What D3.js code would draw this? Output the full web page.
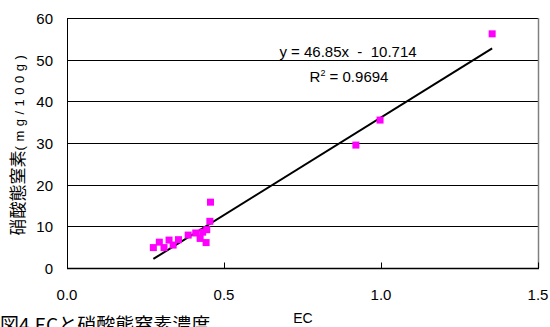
<!DOCTYPE html>
<html>
<head>
<meta charset="utf-8">
<script src="https://cdn.jsdelivr.net/npm/d3@7"></script>
<style>
  body { margin: 0; background: #fff; }
  svg { display: block; }
  text { font-family: "Liberation Sans", Arial, sans-serif; fill: #000; }
</style>
</head>
<body>
<div id="chart"></div>
<script>
// EC vs nitrate nitrogen
const ecValues = [0.275, 0.294, 0.309, 0.325, 0.338, 0.355, 0.386, 0.41, 0.424, 0.432, 0.443, 0.445, 0.455, 0.457, 0.92, 0.997, 1.354];
const no3Values = [4.9, 6.2, 4.9, 6.7, 5.5, 6.8, 7.9, 8.4, 7.1, 8.6, 6.1, 9.2, 11.2, 15.8, 29.5, 35.5, 56.2];
const xTicks = [0, 0.5, 1.0, 1.5];
const yTicks = [0, 10, 20, 30, 40, 50, 60];
const slope = 46.85;
const intercept = -10.714;
const eqLabel = "y = 46.85x  -  10.714";
const r2Label = "0.9694";

const width = 550, height = 327;
const margin = { top: 18, right: 12, bottom: 59, left: 67 };

const svg = d3.select("#chart").append("svg")
    .attr("width", width)
    .attr("height", height);

const x = d3.scaleLinear().domain([0, 1.5]).range([margin.left, width - margin.right]);
const y = d3.scaleLinear().domain([0, 60]).range([height - margin.bottom, margin.top]);

const data = ecValues.map((d, i) => ({ ec: d, no3: no3Values[i] }));

// gridlines
svg.append("g")
    .selectAll("line")
    .data(yTicks.filter(d => d > 0))
    .join("line")
    .attr("x1", x(0))
    .attr("x2", x(1.5))
    .attr("y1", d => Math.round(y(d)) + 0.5)
    .attr("y2", d => Math.round(y(d)) + 0.5)
    .attr("stroke", "#000")
    .attr("stroke-width", 1);

// right border (gray)
svg.append("line")
    .attr("x1", Math.round(x(1.5)) + 0.5).attr("x2", Math.round(x(1.5)) + 0.5)
    .attr("y1", y(60)).attr("y2", y(0))
    .attr("stroke", "#808080")
    .attr("stroke-width", 1.5);

// left axis
svg.append("line")
    .attr("x1", Math.round(x(0)) + 0.5).attr("x2", Math.round(x(0)) + 0.5)
    .attr("y1", y(60)).attr("y2", y(0) + 0.5)
    .attr("stroke", "#000");

// bottom axis with inner ticks
const yBase = Math.round(y(0)) + 0.5;
svg.append("line")
    .attr("x1", x(0)).attr("x2", x(1.5) + 1)
    .attr("y1", yBase).attr("y2", yBase)
    .attr("stroke", "#000")
    .attr("stroke-width", 1.3);

svg.append("g")
    .selectAll("line")
    .data(xTicks)
    .join("line")
    .attr("x1", d => Math.round(x(d)) + 0.5)
    .attr("x2", d => Math.round(x(d)) + 0.5)
    .attr("y1", yBase)
    .attr("y2", yBase - 6)
    .attr("stroke", "#000");

// tick labels
svg.append("g")
    .selectAll("text")
    .data(yTicks)
    .join("text")
    .attr("x", 53)
    .attr("y", d => y(d) + 6)
    .attr("text-anchor", "end")
    .style("font-size", "15px")
    .text(d => d);

svg.append("g")
    .selectAll("text")
    .data(xTicks)
    .join("text")
    .attr("x", d => x(d))
    .attr("y", 299.5)
    .attr("text-anchor", "middle")
    .style("font-size", "15px")
    .text(d => d3.format(".1f")(d));

// trend line
const xExt = d3.extent(ecValues);
svg.append("line")
    .attr("x1", x(xExt[0])).attr("y1", y(slope * xExt[0] + intercept))
    .attr("x2", x(xExt[1])).attr("y2", y(slope * xExt[1] + intercept))
    .attr("stroke", "#000")
    .attr("stroke-width", 2);

// points
svg.append("g")
    .selectAll("rect")
    .data(data)
    .join("rect")
    .attr("x", d => x(d.ec) - 3.5)
    .attr("y", d => y(d.no3) - 3.5)
    .attr("width", 7)
    .attr("height", 7)
    .attr("fill", "#ff00ff");

// equation
svg.append("text")
    .attr("x", 348)
    .attr("y", 57)
    .attr("text-anchor", "middle")
    .style("font-size", "15px")
    .style("white-space", "pre")
    .text(eqLabel);

const r2 = svg.append("text")
    .attr("x", 349)
    .attr("y", 82)
    .attr("text-anchor", "middle")
    .style("font-size", "15px");
r2.append("tspan").text("R");
r2.append("tspan").attr("dy", -6).style("font-size", "9px").text("2");
r2.append("tspan").attr("dy", 6).text(" = " + r2Label);

// axis titles
svg.append("text")
    .attr("x", 303)
    .attr("y", 323)
    .attr("text-anchor", "middle")
    .style("font-size", "14px")
    .text("EC");

const yTitle = svg.append("text")
    .attr("transform", `translate(24,${143}) rotate(-90)`)
    .attr("text-anchor", "middle");
yTitle.append("tspan")
    .style("font-family", "'Noto Sans CJK JP', sans-serif")
    .style("font-size", "17px")
    .text("硝酸態窒素");
yTitle.append("tspan")
    .style("font-size", "13px")
    .style("letter-spacing", "4.5px")
    .text("(mg/100g)");

// caption (partly below the bottom edge, as in the original)
svg.append("text")
    .attr("x", 0)
    .attr("y", 332)
    .style("font-family", "'Noto Sans CJK JP', sans-serif")
    .style("font-size", "19px")
    .text("図4.ECと硝酸態窒素濃度");
</script>
</body>
</html>
